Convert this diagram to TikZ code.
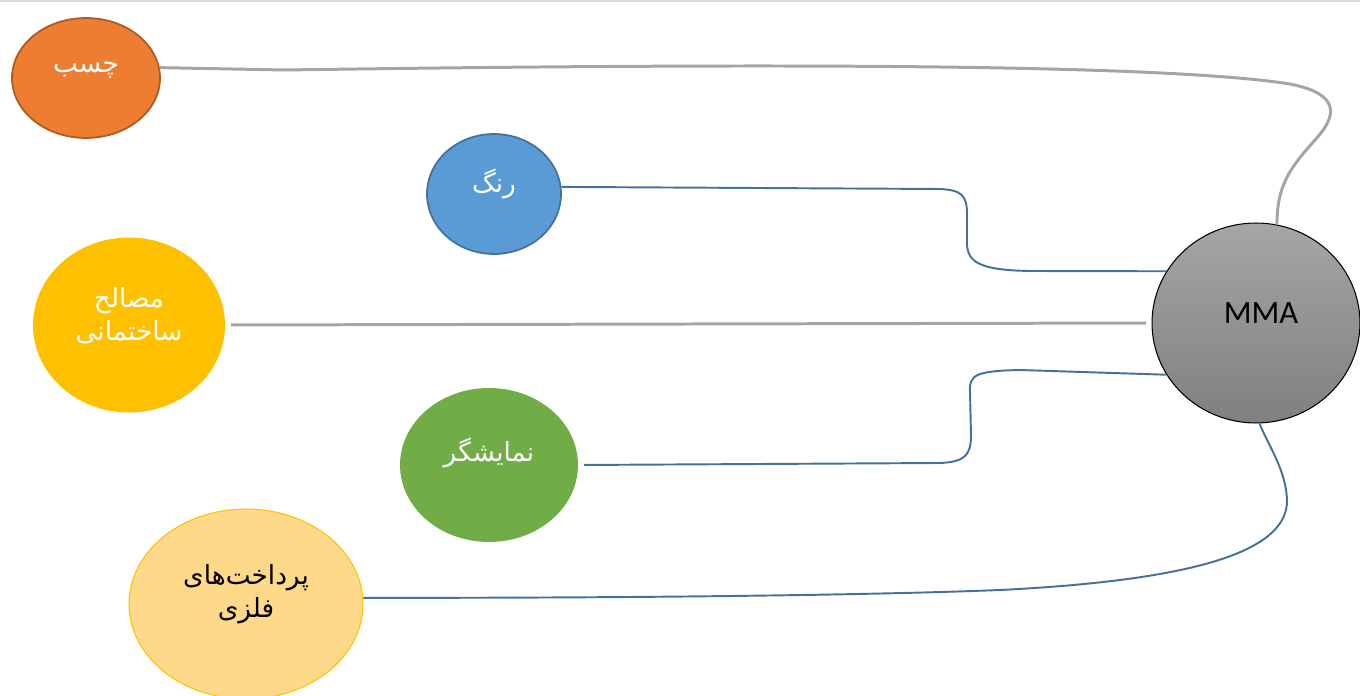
\documentclass[tikz,border=0pt]{standalone}
\usepackage{fontspec}
\setmainfont{Carlito}
\newfontfamily\arabicfont[Script=Arabic]{DejaVu Sans}
\TeXXeTstate=1
\usetikzlibrary{shapes.geometric,shadings}

\definecolor{orangefill}{HTML}{ED7D31}
\definecolor{orangeline}{HTML}{AE5A21}
\definecolor{bluefill}{HTML}{5B9BD5}
\definecolor{blueline}{HTML}{41719C}
\definecolor{yellowfill}{HTML}{FFC000}
\definecolor{greenfill}{HTML}{70AD47}
\definecolor{palefill}{HTML}{FFD98A}
\definecolor{linkgray}{HTML}{A5A5A5}

\begin{document}
\begin{tikzpicture}[x=0.02cm, y=-0.02cm]
\useasboundingbox (0,0) rectangle (1360,696);
\draw[black!15, line width=0.6pt] (0,1) -- (1360,1);

\begin{scope}[every node/.style={ellipse, line width=1pt}]
    \node[fill=orangefill, draw=orangeline, minimum width=2.96cm, minimum height=2.4cm] (chasb) at (86,78) {};
    \node[fill=bluefill, draw=blueline, minimum width=2.68cm, minimum height=2.4cm] (rang) at (494,194) {};
    \node[fill=yellowfill, minimum width=3.84cm, minimum height=3.5cm] (masaleh) at (129,325) {};
    \node[fill=greenfill, minimum width=3.56cm, minimum height=3.08cm] (namayesh) at (489,465) {};
    \node[fill=palefill, draw=yellowfill, line width=0.6pt, minimum width=4.68cm, minimum height=3.8cm] (pardakht) at (246,604) {};
    \node[top color=black!35, bottom color=black!50, draw=black, line width=0.6pt, minimum width=4.16cm, minimum height=4cm] (mma) at (1256,323) {};
\end{scope}

\begin{scope}[every node/.style={align=center, font=\arabicfont\fontsize{15}{19}\selectfont}]
    \node[white] (tchasb) at (86,70) {\beginR چسب\endR};
    \node[white] (trang) at (494,184) {\beginR رنگ\endR};
    \node[white] (tmasaleh) at (129,316) {\beginR مصالح\endR\\\beginR ساختمانی\endR};
    \node[white] (tnamayesh) at (489,453) {\beginR نمایشگر\endR};
    \node[black] (tpardakht) at (246,594) {\beginR پرداخت‌های\endR\\\beginR فلزی\endR};
\end{scope}
\node[font=\fontsize{18.5}{22}\selectfont] (tmma) at (1261,313) {MMA};

\begin{scope}[linkgray, line width=1.7pt]
    \draw (chasb.8) -- (285,70) .. controls (700,64) and (1150,62) .. (1290,84) .. controls (1340,94) and (1338,115) .. (1315,140) .. controls (1290,168) and (1277,185) .. (mma.78);
    \draw[shorten <=3pt, shorten >=3pt] (masaleh.east) -- (mma.west);
\end{scope}

\begin{scope}[blueline, line width=1.1pt]
    \draw (rang.6) -- (940,189) .. controls (962,190) and (967,196) .. (967,214) -- (967,240) .. controls (966,262) and (978,270) .. (1030,271) -- (mma.150);
    \draw[shorten <=3pt] (namayesh.east) -- (940,463) .. controls (965,462) and (971,455) .. (971,435) -- (970,392) .. controls (969,375) and (975,371) .. (1020,370) -- (mma.210);
    \draw (pardakht.3) .. controls (700,598) and (900,594) .. (1000,590) .. controls (1200,580) and (1288,550) .. (1287,500) .. controls (1286,470) and (1268,445) .. (mma.272);
\end{scope}

\end{tikzpicture}
\end{document}
